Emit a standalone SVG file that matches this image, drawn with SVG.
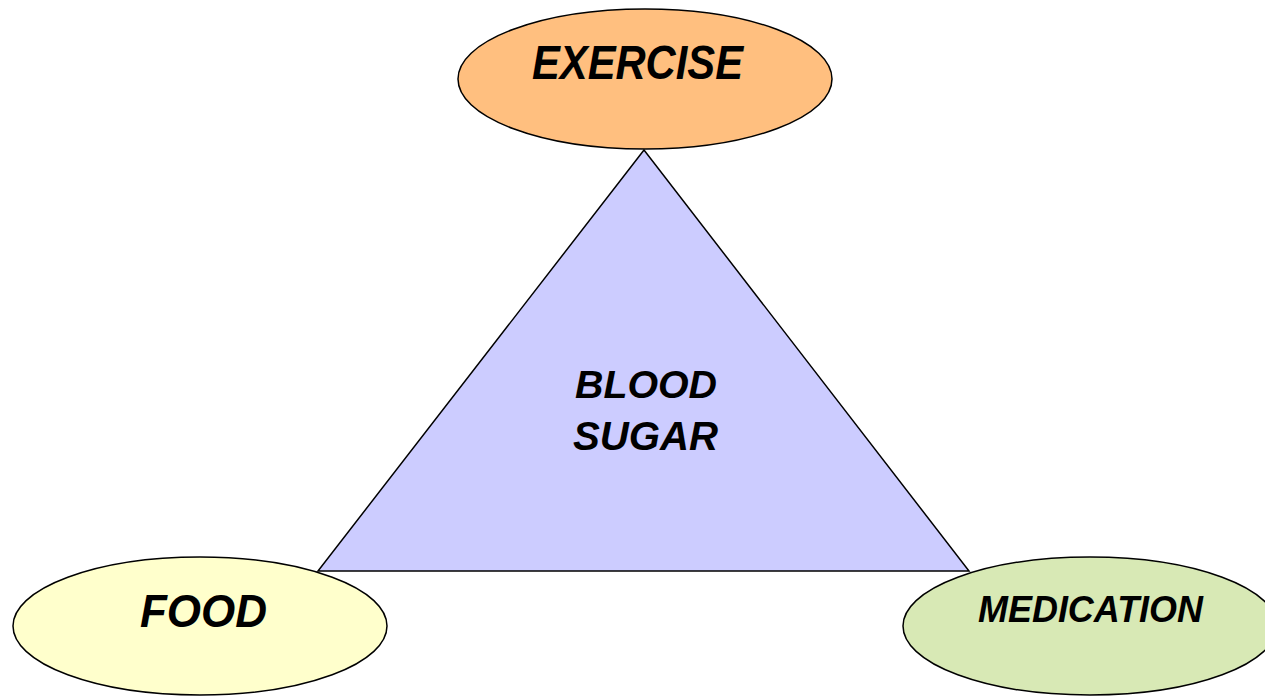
<svg xmlns="http://www.w3.org/2000/svg" width="1265" height="696" viewBox="0 0 1265 696">
<style>
.shape{stroke:#000;stroke-width:1.5}
.lbl{font-family:"Comic Sans MS","Liberation Sans","DejaVu Sans",sans-serif;font-weight:bold;font-style:italic;fill:#000}
</style>
<rect width="1265" height="696" fill="#fff"/>
<g id="connectors"></g>
<g id="blood-sugar">
<polygon class="shape" points="644,150 318,571 969,571" fill="#CCCCFF"/>
<text class="lbl" x="575" y="398" font-size="39" textLength="142" lengthAdjust="spacingAndGlyphs">BLOOD</text>
<text class="lbl" x="573" y="450" font-size="40" textLength="145" lengthAdjust="spacingAndGlyphs">SUGAR</text>
</g>
<g id="exercise">
<ellipse class="shape" cx="645" cy="79" rx="187" ry="70" fill="#FFBF7F"/>
<text class="lbl" x="532" y="79" font-size="48" textLength="211" lengthAdjust="spacingAndGlyphs">EXERCISE</text>
</g>
<g id="food">
<ellipse class="shape" cx="200" cy="626" rx="187" ry="69" fill="#FFFFCC"/>
<text class="lbl" x="140" y="627" font-size="46" textLength="127" lengthAdjust="spacingAndGlyphs">FOOD</text>
</g>
<g id="medication">
<ellipse class="shape" cx="1090" cy="626" rx="187" ry="69" fill="#D8E9B5"/>
<text class="lbl" x="978" y="622" font-size="37" textLength="225" lengthAdjust="spacingAndGlyphs">MEDICATION</text>
</g>
</svg>
